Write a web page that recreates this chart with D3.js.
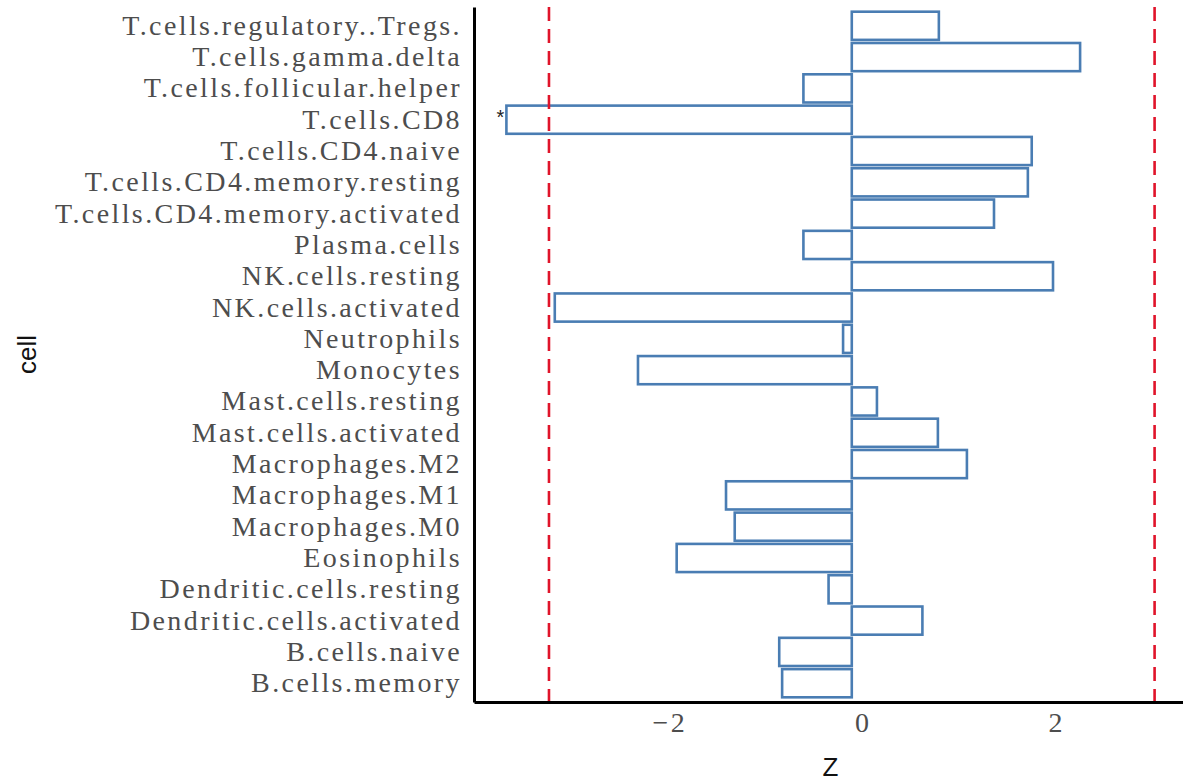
<!DOCTYPE html>
<html>
<head>
<meta charset="utf-8">
<script src="https://cdn.jsdelivr.net/npm/d3@7"></script>
<style>
  body { margin: 0; background: #fff; }
  svg { display: block; }
</style>
</head>
<body>
<div class="graph"></div>
<script>
// cell types, top row first, and their z scores
const cells = [
  "T.cells.regulatory..Tregs.", "T.cells.gamma.delta", "T.cells.follicular.helper",
  "T.cells.CD8", "T.cells.CD4.naive", "T.cells.CD4.memory.resting",
  "T.cells.CD4.memory.activated", "Plasma.cells", "NK.cells.resting",
  "NK.cells.activated", "Neutrophils", "Monocytes", "Mast.cells.resting",
  "Mast.cells.activated", "Macrophages.M2", "Macrophages.M1", "Macrophages.M0",
  "Eosinophils", "Dendritic.cells.resting", "Dendritic.cells.activated",
  "B.cells.naive", "B.cells.memory"
];
const zScores = [
  0.90, 2.36, -0.50,
  -3.57, 1.86, 1.82,
  1.47, -0.50, 2.08,
  -3.07, -0.09, -2.21, 0.26,
  0.89, 1.19, -1.30, -1.21,
  -1.81, -0.24, 0.73,
  -0.75, -0.72
];
const cutoff = 3.13;           // red dashed lines at +/- cutoff
const xTicks = [-2, 0, 2];
const xTitle = "Z";
const yTitle = "cell";

const data = cells.map((c, i) => ({cell: c, z: zScores[i]}));

const W = 1183, H = 782;
const svg = d3.select(".graph").append("svg").attr("width", W).attr("height", H);

const pLeft = 474, pRight = 1187, pTop = 7, pBottom = 702;

// ggplot style 5% expansion, thresholds included in the range
const lo = Math.min(d3.min(zScores), -cutoff), hi = Math.max(d3.max(zScores), cutoff);
const pad = (hi - lo) * 0.05;
const x = d3.scaleLinear().domain([lo - pad, hi + pad]).range([pLeft, pRight]);
const y = d3.scaleBand().domain(cells).range([pTop, pBottom]).paddingInner(0.1).paddingOuter(0.15);

const g = svg.append("g");

// bars
g.selectAll(".bar")
  .data(data)
  .join("rect")
  .attr("class", "bar")
  .attr("x", d => x(Math.min(0, d.z)))
  .attr("width", d => Math.abs(x(d.z) - x(0)))
  .attr("y", d => y(d.cell))
  .attr("height", y.bandwidth())
  .attr("fill", "#fff")
  .attr("stroke", "#4a7db3")
  .attr("stroke-width", 2.6);

// threshold lines
g.selectAll(".cut")
  .data([-cutoff, cutoff])
  .join("line")
  .attr("class", "cut")
  .attr("x1", d => x(d)).attr("x2", d => x(d))
  .attr("y1", pTop).attr("y2", pBottom)
  .attr("stroke", "#e0142a")
  .attr("stroke-width", 2.6)
  .attr("stroke-dasharray", "14,8");

// significance marks
g.selectAll(".star")
  .data(data.filter(d => Math.abs(d.z) > cutoff))
  .join("text")
  .attr("class", "star")
  .attr("x", d => x(d.z) - 2)
  .attr("y", d => y(d.cell) + y.bandwidth() / 2 + 4)
  .attr("text-anchor", "end")
  .style("font-family", "Liberation Sans")
  .style("font-size", "20px")
  .attr("fill", "#222")
  .text("*");

// axes
const yaxis = d3.axisLeft(y).tickSize(0).tickPadding(12);
const yg = svg.append("g").attr("transform", "translate(" + pLeft + ",0)").call(yaxis);
yg.select(".domain").attr("stroke", "#000").attr("stroke-width", 3);
yg.selectAll("text")
  .style("font-family", "Liberation Serif")
  .style("font-size", "28px")
  .style("letter-spacing", "2.4px")
  .attr("fill", "#4d4d4d");

const xaxis = d3.axisBottom(x).tickValues(xTicks).tickSize(0).tickPadding(10)
  .tickFormat(d => d < 0 ? "\u2212" + Math.abs(d) : d);
const xg = svg.append("g").attr("transform", "translate(0," + pBottom + ")").call(xaxis);
xg.select(".domain").attr("stroke", "#000").attr("stroke-width", 3);
xg.selectAll("text")
  .attr("dx", 11)
  .style("font-family", "Liberation Serif")
  .style("font-size", "28px")
  .style("letter-spacing", "2.4px")
  .attr("fill", "#4d4d4d");

// titles
svg.append("text")
  .attr("x", (pLeft + pRight) / 2)
  .attr("y", 776)
  .attr("text-anchor", "middle")
  .style("font-family", "Liberation Sans")
  .style("font-size", "26px")
  .attr("fill", "#111")
  .text(xTitle);

svg.append("text")
  .attr("transform", "translate(36," + ((pTop + pBottom) / 2) + ") rotate(-90)")
  .attr("text-anchor", "middle")
  .style("font-family", "Liberation Sans")
  .style("font-size", "26px")
  .attr("fill", "#111")
  .text(yTitle);
</script>
</body>
</html>
